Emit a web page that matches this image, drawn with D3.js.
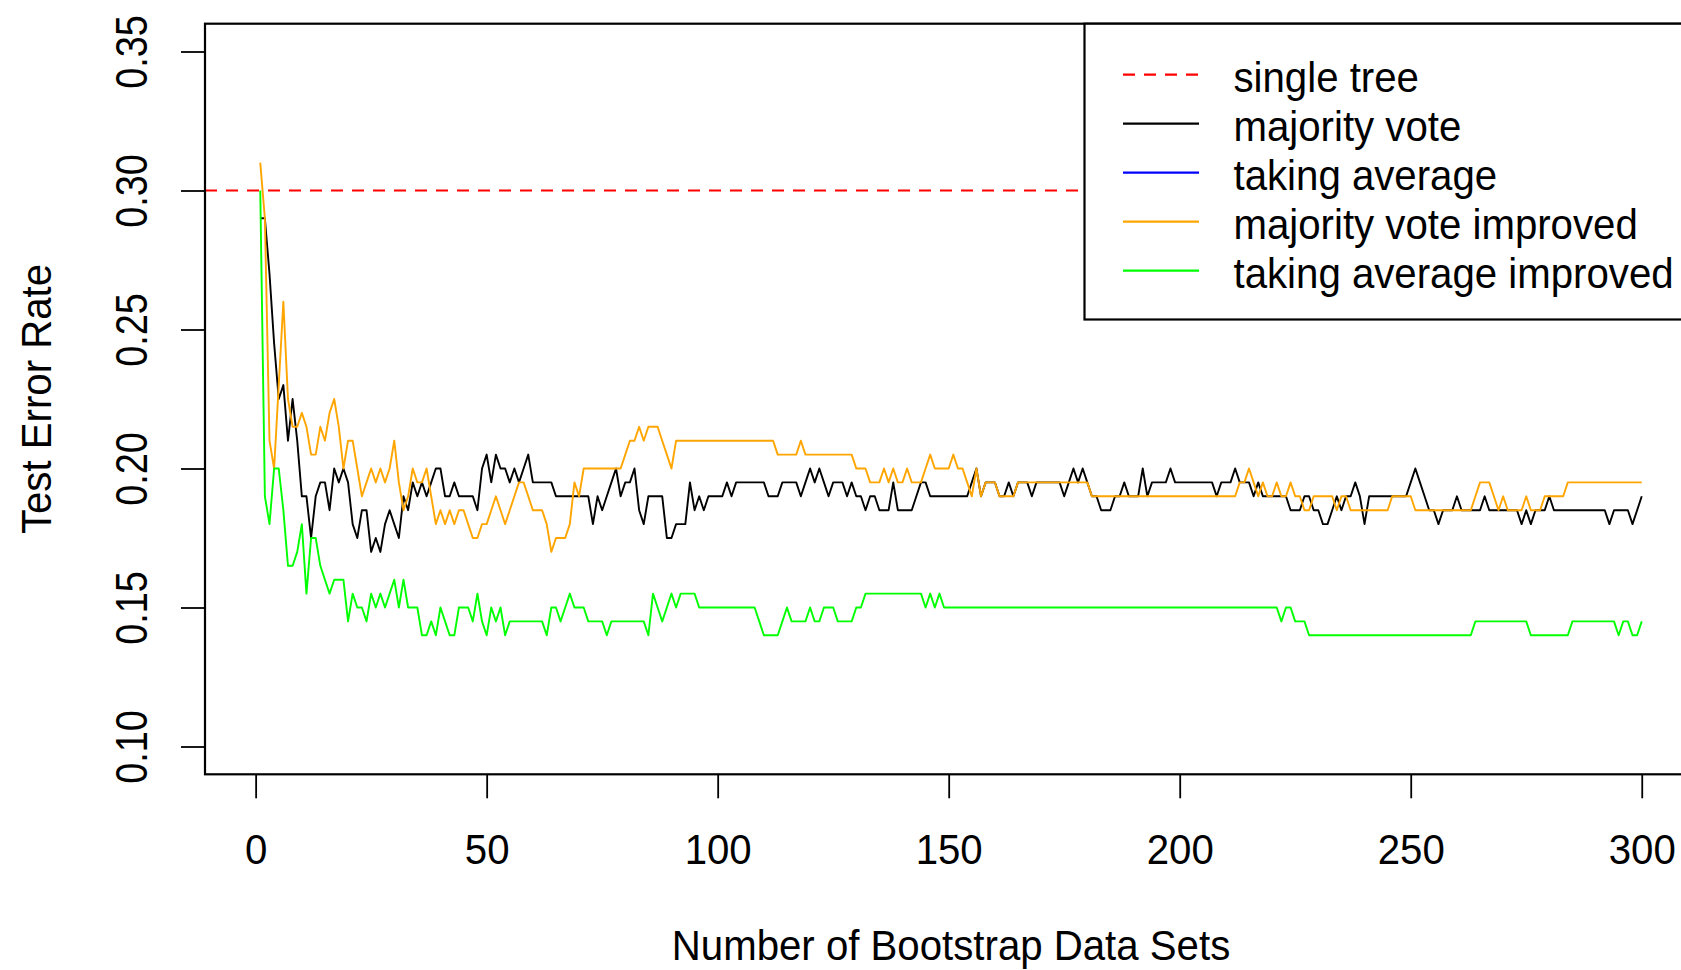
<!DOCTYPE html>
<html>
<head>
<meta charset="utf-8">
<script src="https://cdn.jsdelivr.net/npm/d3@7"></script>
<style>
  body { margin: 0; background: #fff; }
  svg { display: block; font-family: "Liberation Sans", Arial, sans-serif; }
</style>
</head>
<body>
<div id="chart"></div>
<script>
// number of bootstrap data sets (x) and test error rates
const numBootstrap = d3.range(1, 301);
const singleTreeError = 0.30;

const majorityVote = [
  .29,.29,.27,.245,.225,.23,.21,.225,.21,.19,
  .19,.175,.19,.195,.195,.185,.20,.195,.20,.195,
  .18,.175,.185,.185,.17,.175,.17,.18,.185,.18,
  .175,.19,.185,.195,.19,.195,.19,.195,.20,.20,
  .19,.19,.195,.19,.19,.19,.19,.185,.20,.205,
  .195,.205,.20,.20,.195,.20,.195,.20,.205,.195,
  .195,.195,.195,.195,.19,.19,.19,.19,.19,.19,
  .19,.19,.18,.19,.185,.19,.195,.20,.19,.195,
  .195,.20,.185,.18,.19,.19,.19,.19,.175,.175,
  .18,.18,.18,.195,.185,.19,.185,.19,.19,.19,
  .19,.195,.19,.195,.195,.195,.195,.195,.195,.195,
  .19,.19,.19,.195,.195,.195,.195,.19,.195,.20,
  .195,.20,.195,.19,.195,.195,.195,.19,.195,.19,
  .19,.185,.19,.19,.185,.185,.185,.195,.185,.185,
  .185,.185,.19,.195,.195,.19,.19,.19,.19,.19,
  .19,.19,.19,.19,.195,.20,.19,.195,.195,.195,
  .19,.19,.195,.19,.195,.195,.195,.19,.195,.195,
  .195,.195,.195,.195,.19,.195,.20,.195,.20,.195,
  .19,.19,.185,.185,.185,.19,.19,.195,.19,.19,
  .19,.20,.19,.195,.195,.195,.195,.20,.195,.195,
  .195,.195,.195,.195,.195,.195,.195,.19,.195,.195,
  .195,.20,.195,.195,.195,.19,.195,.19,.19,.19,
  .19,.19,.19,.185,.185,.185,.19,.19,.185,.185,
  .18,.18,.185,.19,.185,.19,.19,.195,.19,.18,
  .19,.19,.19,.19,.19,.19,.19,.19,.19,.195,
  .20,.195,.19,.185,.185,.18,.185,.185,.185,.19,
  .185,.185,.185,.185,.185,.19,.185,.185,.185,.185,
  .185,.185,.185,.18,.185,.18,.185,.185,.185,.19,
  .185,.185,.185,.185,.185,.185,.185,.185,.185,.185,
  .185,.185,.18,.185,.185,.185,.185,.18,.185,.19
];

const majorityVoteImproved = [
  .31,.29,.21,.20,.23,.26,.225,.215,.215,.22,
  .215,.205,.205,.215,.21,.22,.225,.215,.20,.21,
  .21,.20,.19,.195,.20,.195,.20,.195,.20,.21,
  .195,.185,.19,.20,.195,.195,.20,.19,.18,.185,
  .18,.185,.18,.185,.185,.18,.175,.175,.18,.18,
  .185,.19,.185,.18,.185,.19,.195,.195,.19,.185,
  .185,.185,.18,.17,.175,.175,.175,.18,.195,.19,
  .20,.20,.20,.20,.20,.20,.20,.20,.20,.205,
  .21,.21,.215,.21,.215,.215,.215,.21,.205,.20,
  .21,.21,.21,.21,.21,.21,.21,.21,.21,.21,
  .21,.21,.21,.21,.21,.21,.21,.21,.21,.21,
  .21,.21,.205,.205,.205,.205,.205,.21,.205,.205,
  .205,.205,.205,.205,.205,.205,.205,.205,.205,.20,
  .20,.20,.195,.195,.195,.20,.195,.20,.195,.195,
  .20,.195,.195,.195,.20,.205,.20,.20,.20,.20,
  .205,.20,.20,.195,.19,.20,.19,.195,.195,.195,
  .19,.19,.19,.19,.195,.195,.195,.195,.195,.195,
  .195,.195,.195,.195,.195,.195,.195,.195,.195,.195,
  .19,.19,.19,.19,.19,.19,.19,.19,.19,.19,
  .19,.19,.19,.19,.19,.19,.19,.19,.19,.19,
  .19,.19,.19,.19,.19,.19,.19,.19,.19,.19,
  .19,.19,.195,.195,.20,.195,.19,.195,.19,.19,
  .195,.19,.19,.195,.19,.19,.185,.185,.19,.19,
  .19,.19,.19,.185,.19,.19,.185,.185,.185,.185,
  .185,.185,.185,.185,.185,.19,.19,.19,.19,.19,
  .185,.185,.185,.185,.185,.185,.185,.185,.185,.185,
  .185,.185,.185,.19,.195,.195,.195,.19,.185,.19,
  .185,.185,.185,.185,.19,.185,.185,.185,.19,.19,
  .19,.19,.19,.195,.195,.195,.195,.195,.195,.195,
  .195,.195,.195,.195,.195,.195,.195,.195,.195,.195
];

const takingAverageImproved = [
  .30,.19,.18,.20,.20,.185,.165,.165,.17,.18,
  .155,.175,.175,.165,.16,.155,.16,.16,.16,.145,
  .155,.15,.15,.145,.155,.15,.155,.15,.155,.16,
  .15,.16,.15,.15,.15,.14,.14,.145,.14,.15,
  .145,.14,.14,.15,.15,.15,.145,.155,.145,.14,
  .15,.145,.15,.14,.145,.145,.145,.145,.145,.145,
  .145,.145,.14,.15,.15,.145,.15,.155,.15,.15,
  .15,.145,.145,.145,.145,.14,.145,.145,.145,.145,
  .145,.145,.145,.145,.14,.155,.15,.145,.15,.155,
  .15,.155,.155,.155,.155,.15,.15,.15,.15,.15,
  .15,.15,.15,.15,.15,.15,.15,.15,.145,.14,
  .14,.14,.14,.145,.15,.145,.145,.145,.145,.15,
  .145,.145,.15,.15,.15,.145,.145,.145,.145,.15,
  .15,.155,.155,.155,.155,.155,.155,.155,.155,.155,
  .155,.155,.155,.155,.15,.155,.15,.155,.15,.15,
  .15,.15,.15,.15,.15,.15,.15,.15,.15,.15,
  .15,.15,.15,.15,.15,.15,.15,.15,.15,.15,
  .15,.15,.15,.15,.15,.15,.15,.15,.15,.15,
  .15,.15,.15,.15,.15,.15,.15,.15,.15,.15,
  .15,.15,.15,.15,.15,.15,.15,.15,.15,.15,
  .15,.15,.15,.15,.15,.15,.15,.15,.15,.15,
  .15,.15,.15,.15,.15,.15,.15,.15,.15,.15,
  .15,.145,.15,.15,.145,.145,.145,.14,.14,.14,
  .14,.14,.14,.14,.14,.14,.14,.14,.14,.14,
  .14,.14,.14,.14,.14,.14,.14,.14,.14,.14,
  .14,.14,.14,.14,.14,.14,.14,.14,.14,.14,
  .14,.14,.14,.145,.145,.145,.145,.145,.145,.145,
  .145,.145,.145,.145,.145,.14,.14,.14,.14,.14,
  .14,.14,.14,.14,.145,.145,.145,.145,.145,.145,
  .145,.145,.145,.145,.14,.145,.145,.14,.14,.145
];

const xTicks = [0, 50, 100, 150, 200, 250, 300];
const yTicks = [0.10, 0.15, 0.20, 0.25, 0.30, 0.35];
const legendLabels = ['single tree', 'majority vote', 'taking average', 'majority vote improved', 'taking average improved'];

class ErrorRateChart {
    constructor(_config) {
        this.config = {
            parentElement: _config.parentElement,
            containerWidth: 1681,
            containerHeight: 970,
            plot: {left: 205, right: 1697, top: 23.7, bottom: 774.3},
            xDomain: [-10.96, 311.96],
            yDomain: [0.09, 0.36],
            colors: ['#ff0000', '#000000', '#0000ff', '#ffa500', '#00ff00'],
            dash: '12,9',
            lineWidth: 1.9,
            fontSize: 43,
            squeeze: 0.935,
            tickFontSize: 44,
            tickSqueeze: 0.86,
            tickLength: 24,
            legend: {left: 1084.5, bottom: 319.5, lineX0: 1123, lineX1: 1199, textX: 1233.5, firstY: 74.7, step: 49}
        };
        this.initVis();
    }

    initVis() {
        let vis = this;
        const c = vis.config;

        vis.svg = d3.select(c.parentElement).append('svg')
            .attr('width', c.containerWidth)
            .attr('height', c.containerHeight);

        vis.x = d3.scaleLinear().domain(c.xDomain).range([c.plot.left, c.plot.right]);
        vis.y = d3.scaleLinear().domain(c.yDomain).range([c.plot.bottom, c.plot.top]);

        vis.svg.append('defs').append('clipPath').attr('id', 'plot-clip')
            .append('rect')
            .attr('x', c.plot.left).attr('y', c.plot.top)
            .attr('width', c.plot.right - c.plot.left)
            .attr('height', c.plot.bottom - c.plot.top);

        vis.renderVis();
    }

    renderVis() {
        let vis = this;
        const c = vis.config;

        const line = d3.line()
            .x((d, i) => vis.x(numBootstrap[i]))
            .y(d => vis.y(d));

        const lines = vis.svg.append('g').attr('clip-path', 'url(#plot-clip)');

        [[majorityVote, c.colors[1]], [majorityVoteImproved, c.colors[3]], [takingAverageImproved, c.colors[4]]]
            .forEach(([series, color]) => {
                lines.append('path')
                    .datum(series)
                    .attr('d', line)
                    .attr('fill', 'none')
                    .attr('stroke', color)
                    .attr('stroke-width', c.lineWidth)
                    .attr('stroke-linejoin', 'round');
            });

        // abline for the single tree
        lines.append('line')
            .attr('x1', c.plot.left).attr('x2', c.plot.right)
            .attr('y1', vis.y(singleTreeError)).attr('y2', vis.y(singleTreeError))
            .attr('stroke', c.colors[0])
            .attr('stroke-width', 2.2)
            .attr('stroke-dasharray', c.dash);

        // axes
        const xAxis = vis.svg.append('g')
            .attr('transform', `translate(0,${c.plot.bottom})`)
            .call(d3.axisBottom(vis.x).tickValues(xTicks).tickSize(c.tickLength).tickSizeOuter(0));
        xAxis.select('.domain').remove();
        xAxis.selectAll('line').attr('stroke-width', 1.8);
        xAxis.selectAll('text')
            .attr('y', 90).attr('dy', null)
            .attr('transform', `scale(${c.squeeze},1)`)
            .style('font-size', c.fontSize + 'px')
            .style('font-family', '"Liberation Sans", Arial, sans-serif')
            .attr('fill', '#000');

        const yAxis = vis.svg.append('g')
            .attr('transform', `translate(${c.plot.left},0)`)
            .call(d3.axisLeft(vis.y).tickValues(yTicks).tickSize(c.tickLength).tickSizeOuter(0).tickFormat(d3.format('.2f')));
        yAxis.select('.domain').remove();
        yAxis.selectAll('line').attr('stroke-width', 1.8);
        yAxis.selectAll('text')
            .attr('x', 0).attr('dy', null)
            .attr('text-anchor', 'middle')
            .attr('transform', `translate(-58,0) rotate(-90) scale(${c.tickSqueeze},1)`)
            .style('font-size', c.tickFontSize + 'px')
            .style('font-family', '"Liberation Sans", Arial, sans-serif')
            .attr('fill', '#000');

        // plot box
        vis.svg.append('rect')
            .attr('x', c.plot.left).attr('y', c.plot.top)
            .attr('width', c.plot.right - c.plot.left)
            .attr('height', c.plot.bottom - c.plot.top)
            .attr('fill', 'none')
            .attr('stroke', '#000')
            .attr('stroke-width', 2.2);

        // axis titles
        vis.svg.append('text')
            .attr('transform', `translate(${(c.plot.left + c.plot.right) / 2},960) scale(${c.squeeze},1)`)
            .attr('text-anchor', 'middle')
            .style('font-size', c.fontSize + 'px')
            .text('Number of Bootstrap Data Sets');

        vis.svg.append('text')
            .attr('transform', `translate(51,${(c.plot.top + c.plot.bottom) / 2}) rotate(-90) scale(${c.squeeze},1)`)
            .attr('text-anchor', 'middle')
            .style('font-size', c.fontSize + 'px')
            .text('Test Error Rate');

        // legend
        const lg = c.legend;
        const legend = vis.svg.append('g').attr('class', 'legend');
        legend.append('rect')
            .attr('x', lg.left).attr('y', c.plot.top)
            .attr('width', c.plot.right - lg.left)
            .attr('height', lg.bottom - c.plot.top)
            .attr('fill', '#fff')
            .attr('stroke', '#000')
            .attr('stroke-width', 2.2);

        const items = legend.selectAll('.legend-item')
            .data(legendLabels)
            .join('g')
            .attr('class', 'legend-item')
            .attr('transform', (d, i) => `translate(0,${lg.firstY + i * lg.step})`);

        items.append('line')
            .attr('x1', lg.lineX0).attr('x2', lg.lineX1)
            .attr('stroke', (d, i) => c.colors[i])
            .attr('stroke-width', 2.2)
            .attr('stroke-dasharray', (d, i) => i === 0 ? c.dash : null);

        items.append('text')
            .attr('transform', `translate(${lg.textX},17) scale(${c.squeeze},1)`)
            .style('font-size', c.fontSize + 'px')
            .attr('fill', '#000')
            .text(d => d);
    }
}

new ErrorRateChart({parentElement: '#chart'});
</script>
</body>
</html>
